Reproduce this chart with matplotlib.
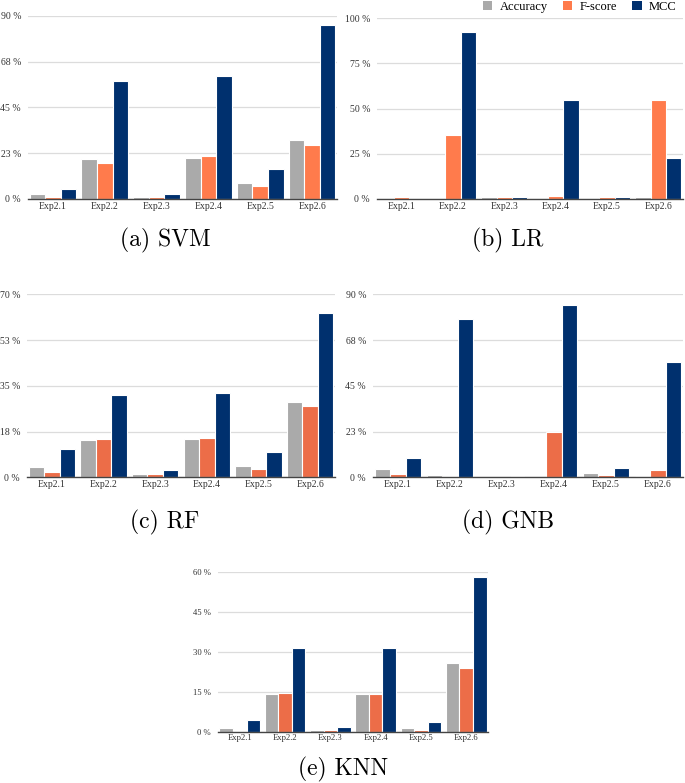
import matplotlib
matplotlib.use("Agg")
import matplotlib.pyplot as plt
from matplotlib.patches import Patch
import numpy as np

categories = ["Exp2.1", "Exp2.2", "Exp2.3", "Exp2.4", "Exp2.5", "Exp2.6"]
series_names = ["Accuracy", "F-score", "MCC"]

svm_acc = [2.3, 19.5, 1.1, 20.3, 7.7, 28.8]
svm_f = [1.1, 17.8, 1.1, 21.3, 6.4, 26.4]
svm_mcc = [4.7, 58.1, 2.5, 60.6, 14.7, 85.3]

lr_acc = [0.0, 0.0, 0.9, 0.0, 0.0, 0.9]
lr_f = [1.3, 35.2, 0.9, 1.7, 0.9, 54.6]
lr_mcc = [0.0, 92.3, 1.3, 55.0, 0.9, 22.9]

rf_acc = [4.0, 14.2, 1.4, 14.5, 4.3, 28.7]
rf_f = [2.0, 14.5, 1.4, 14.9, 3.1, 27.4]
rf_mcc = [11.0, 31.4, 2.7, 32.4, 9.6, 62.8]

gnb_acc = [4.3, 1.0, 0.0, 0.0, 2.3, 0.5]
gnb_f = [1.8, 0.5, 0.0, 22.1, 1.0, 3.4]
gnb_mcc = [9.3, 77.7, 0.5, 84.9, 4.8, 56.6]

knn_acc = [1.3, 14.1, 0.8, 14.1, 1.5, 25.8]
knn_f = [0.2, 14.7, 0.8, 14.1, 0.5, 24.0]
knn_mcc = [4.4, 31.5, 1.6, 31.5, 3.6, 58.2]

svm_ticks = [0, 22.5, 45, 67.5, 90]
svm_ticklabels = ["0 %", "23 %", "45 %", "68 %", "90 %"]
lr_ticks = [0, 25, 50, 75, 100]
lr_ticklabels = ["0 %", "25 %", "50 %", "75 %", "100 %"]
rf_ticks = [0, 17.5, 35, 52.5, 70]
rf_ticklabels = ["0 %", "18 %", "35 %", "53 %", "70 %"]
gnb_ticks = [0, 22.5, 45, 67.5, 90]
gnb_ticklabels = ["0 %", "23 %", "45 %", "68 %", "90 %"]
knn_ticks = [0, 15, 30, 45, 60]
knn_ticklabels = ["0 %", "15 %", "30 %", "45 %", "60 %"]

captions = ["(a) SVM", "(b) LR", "(c) RF", "(d) GNB", "(e) KNN"]

W, H = 685, 783
fig = plt.figure(figsize=(W / 100, H / 100), dpi=100)

GRAY = "#aaaaaa"
ORANGE1 = "#ff7b4c"
ORANGE2 = "#ec6d48"
NAVY = "#00306e"
serif = ["Liberation Serif", "DejaVu Serif"]


def px_axes(left, right, top, bottom):
    return fig.add_axes([left / W, 1 - bottom / H, (right - left) / W, (bottom - top) / H])


def draw(ax, acc, f, mcc, ticks, ticklabels, orange, fs=7, ypad=5):
    x = np.arange(len(categories))
    w = 0.3
    for off, vals, col in [(-w, acc, GRAY), (0, f, orange), (w, mcc, NAVY)]:
        ax.bar(x + off, vals, width=w, color=col, edgecolor="white", linewidth=0.8, zorder=3)
    ax.set_xlim(-0.48, len(categories) - 0.52)
    ax.set_ylim(0, ticks[-1])
    ax.set_yticks(ticks)
    ax.set_yticklabels(ticklabels, family=serif, fontsize=fs, color="#333333")
    ax.set_xticks(x)
    ax.set_xticklabels(categories, family=serif, fontsize=fs, color="#333333")
    ax.tick_params(length=0, pad=2)
    ax.tick_params(axis="y", pad=ypad)
    ax.grid(axis="y", color="#dcdcdc", linewidth=0.9, zorder=0)
    for s in ["top", "right", "left"]:
        ax.spines[s].set_visible(False)
    ax.spines["bottom"].set_color("#444444")
    ax.spines["bottom"].set_linewidth(1.0)
    ax.spines["bottom"].set_zorder(4)


ax_a = px_axes(28, 337, 15.7, 199)
draw(ax_a, svm_acc, svm_f, svm_mcc, svm_ticks, svm_ticklabels, ORANGE1)
ax_b = px_axes(377, 683, 18.3, 199)
draw(ax_b, lr_acc, lr_f, lr_mcc, lr_ticks, lr_ticklabels, ORANGE1)
ax_c = px_axes(27, 335, 294.3, 477.3)
draw(ax_c, rf_acc, rf_f, rf_mcc, rf_ticks, rf_ticklabels, ORANGE2)
ax_d = px_axes(373, 683, 294.3, 477.3)
draw(ax_d, gnb_acc, gnb_f, gnb_mcc, gnb_ticks, gnb_ticklabels, ORANGE2)
ax_e = px_axes(218, 488, 572.3, 731.7)
draw(ax_e, knn_acc, knn_f, knn_mcc, knn_ticks, knn_ticklabels, ORANGE2, fs=6.2)

cap_pos = [(165, 240), (508, 240), (165, 522), (508, 522), (343, 769)]
for (cx, cy), txt in zip(cap_pos, captions):
    fig.text(cx / W, 1 - cy / H, txt, ha="center", va="center",
             family=["cmr10", "DejaVu Serif"], fontsize=17)

handles = [Patch(facecolor=GRAY, edgecolor="none"),
           Patch(facecolor=ORANGE1, edgecolor="none"),
           Patch(facecolor=NAVY, edgecolor="none")]
fig.legend(handles, series_names, loc="upper right", bbox_to_anchor=(688 / W, 1 + 10 / H),
           ncol=3, frameon=False, handlelength=0.75, handleheight=0.75, handletextpad=0.6,
           columnspacing=1.2, prop={"family": serif, "size": 9})

fig.savefig("out.png", dpi=100, facecolor="white")
